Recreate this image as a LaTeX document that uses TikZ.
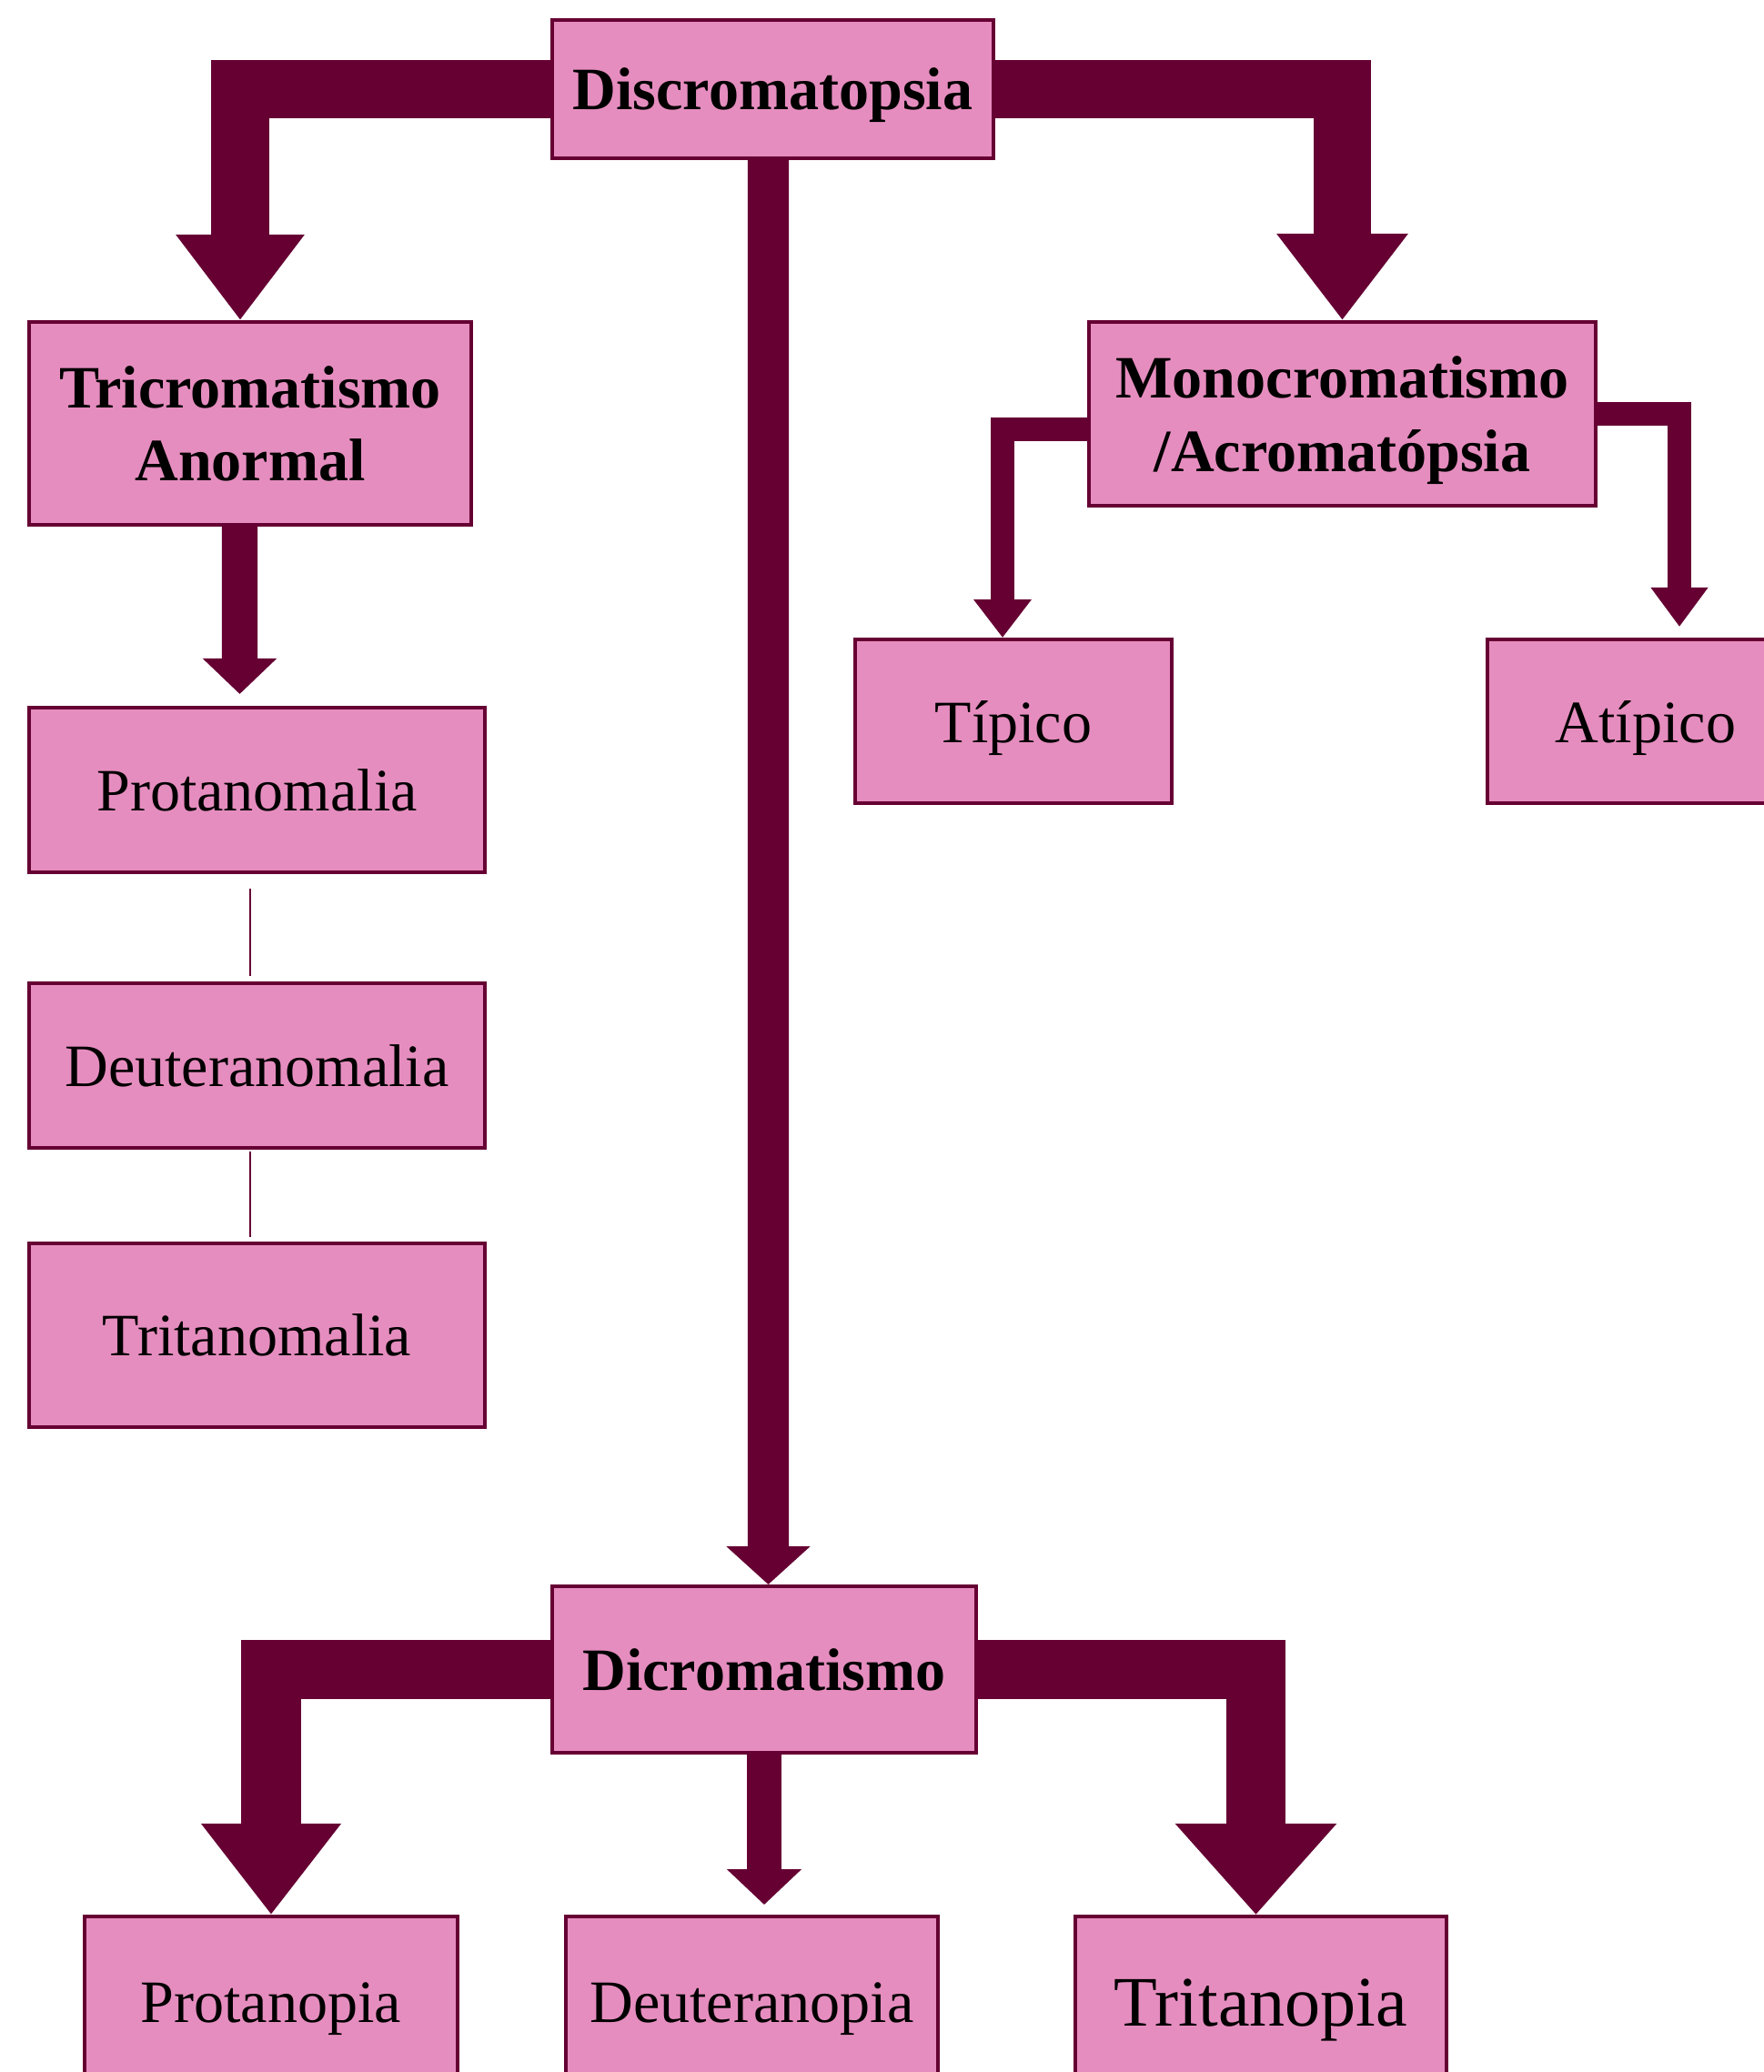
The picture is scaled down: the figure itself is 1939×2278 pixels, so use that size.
\documentclass[tikz,border=0pt]{standalone}
\usepackage{fontspec}
\setmainfont{Liberation Serif}
\usetikzlibrary{arrows.meta}
\definecolor{vinho}{HTML}{660033}
\definecolor{rosa}{HTML}{E68DBF}

\begin{document}
\begin{tikzpicture}[x=0.01cm,y=-0.01cm,caixa/.style={rectangle,draw=vinho,line width=1.1pt,fill=rosa,inner sep=0pt,align=center,text depth=0pt,font=\fontsize{18.8}{22.8}\selectfont},titulo/.style={caixa,font=\fontsize{18.8}{22.8}\selectfont\bfseries},seta/.style={draw=vinho,line join=miter},fio/.style={draw=vinho,line width=0.6pt}]
\useasboundingbox (0,0) rectangle (1939,2278);
\node[titulo,minimum width=4.85cm,minimum height=1.52cm] (disc) at (849.5,98) {Discromatopsia};
\node[titulo,minimum width=4.86cm,minimum height=2.23cm] (tri) at (275,465.5) {Tricromatismo\\Anormal};
\node[titulo,minimum width=5.57cm,minimum height=2.02cm] (mono) at (1475.5,455) {Monocromatismo\\/Acromatópsia};
\node[caixa,minimum width=3.48cm,minimum height=1.8cm] (tip) at (1114,793) {Típico};
\node[caixa,minimum width=3.48cm,minimum height=1.8cm] (atip) at (1809,793) {Atípico};
\node[caixa,minimum width=5.01cm,minimum height=1.81cm] (protm) at (282.5,868.5) {Protanomalia};
\node[caixa,minimum width=5.01cm,minimum height=1.81cm] (deutm) at (282.5,1171.5) {Deuteranomalia};
\node[caixa,minimum width=5.01cm,minimum height=2.02cm] (tritm) at (282.5,1468) {Tritanomalia};
\node[titulo,minimum width=4.66cm,minimum height=1.83cm] (dicro) at (840,1835.5) {Dicromatismo};
\node[caixa,minimum width=4.1cm,minimum height=1.9cm] (prota) at (298,2202) {Protanopia};
\node[caixa,minimum width=4.09cm,minimum height=1.9cm] (deuta) at (826.5,2202) {Deuteranopia};
\node[caixa,minimum width=4.08cm,minimum height=1.9cm,font=\fontsize{22.2}{26}\selectfont] (trita) at (1386,2202) {Tritanopia};
% setas grossas
\draw[seta,line width=0.63cm,-{Triangle[length=0.94cm,width=1.35cm]}] (disc.west) -| ([xshift=-0.11cm]tri.north);
\draw[seta,line width=0.63cm,-{Triangle[length=0.95cm,width=1.38cm]}] (disc.east) -| (mono.north);
\draw[seta,line width=0.45cm,-{Triangle[length=0.42cm,width=0.9cm]}] ([xshift=-0.05cm]disc.south) -- ([xshift=0.045cm]dicro.north);
\draw[seta,line width=0.39cm,-{Triangle[length=0.39cm,width=0.79cm]},shorten >=0.13cm] ([xshift=-0.115cm]tri.south) -- ([xshift=-0.19cm]protm.north);
\draw[seta,line width=0.26cm,-{Triangle[length=0.42cm,width=0.61cm]}] ([yshift=-0.17cm]mono.west) -| ([xshift=-0.12cm]tip.north);
\draw[seta,line width=0.26cm,-{Triangle[length=0.43cm,width=0.6cm]},shorten >=0.12cm] (mono.east) -| ([xshift=0.37cm]atip.north);
\draw[seta,line width=0.65cm,-{Triangle[length=1cm,width=1.47cm]}] (dicro.west) -| (prota.north);
\draw[seta,line width=0.37cm,-{Triangle[length=0.39cm,width=0.8cm]},shorten >=0.11cm] (dicro.south) -- (dicro.south |- deuta.north);
\draw[seta,line width=0.65cm,-{Triangle[length=1cm,width=1.71cm]}] (dicro.east) -| ([xshift=-0.055cm]trita.north);
% linhas finas
\draw[fio,shorten <=0.16cm,shorten >=0.06cm] ([xshift=-0.075cm]protm.south) -- ([xshift=-0.075cm]deutm.north);
\draw[fio,shorten <=0.02cm,shorten >=0.05cm] ([xshift=-0.075cm]deutm.south) -- ([xshift=-0.075cm]tritm.north);
\end{tikzpicture}
\end{document}
